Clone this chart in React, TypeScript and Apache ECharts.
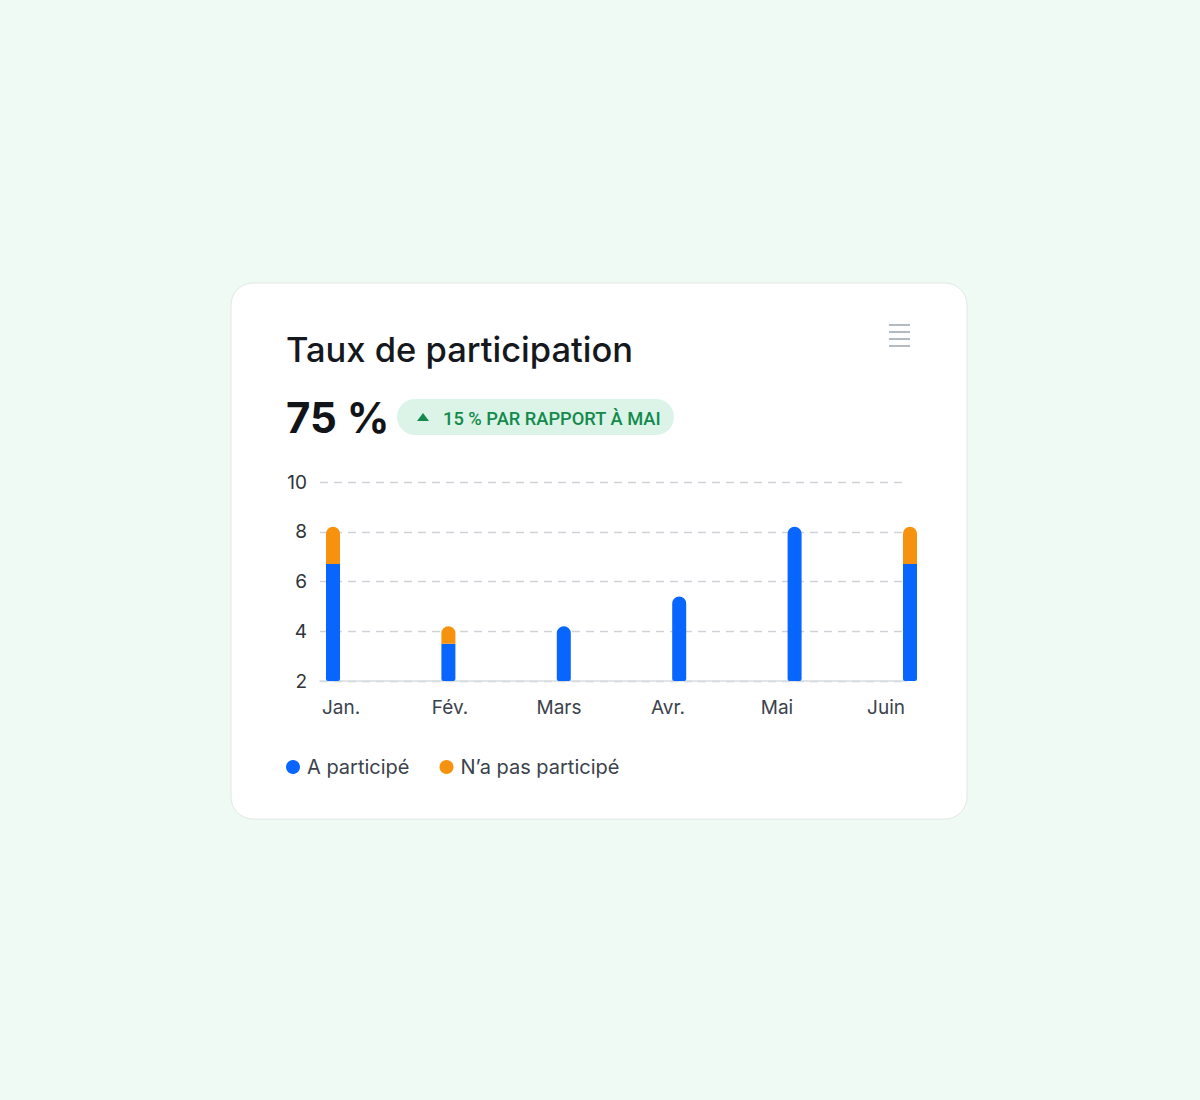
import React, { useEffect, useRef } from "react";
import * as echarts from "echarts";

const categories = ["Jan.", "Fév.", "Mars", "Avr.", "Mai", "Juin"];
const participated = [6.7, 3.5, 4.2, 5.4, 8.2, 6.7];
const notParticipated = [1.5, 0.7, null, null, null, 1.5];
const yTicks = [2, 4, 6, 8, 10];

const BLUE = "#0866ff";
const ORANGE = "#f7920f";

export default function App() {
  const ref = useRef<HTMLDivElement>(null);
  useEffect(() => {
    document.body.style.margin = "0";
    const chart = echarts.init(ref.current!, null, { renderer: "svg" });
    const gridTop = 482;
    const gridH = 199;
    const blueData = participated.map((v, i) => ({
      value: v,
      itemStyle: {
        borderRadius: notParticipated[i] == null ? [7, 7, 2, 2] : [0, 0, 2, 2],
      },
    }));
    const orangeData = notParticipated.map((v) =>
      v == null ? "-" : { value: v, itemStyle: { borderRadius: [7, 7, 0, 0] } }
    );
    chart.setOption({
      animation: false,
      backgroundColor: "#eefaf3",
      textStyle: { fontFamily: "Inter, 'Noto Sans', sans-serif" },
      graphic: [
        {
          type: "rect",
          shape: { x: 231, y: 283, width: 736, height: 536, r: 22 },
          style: { fill: "#ffffff", stroke: "#e2e8e5", lineWidth: 1 },
          z: -10,
        },
        {
          type: "text",
          x: 286,
          y: 349,
          style: {
            text: "Taux de participation",
            fontSize: 34.5,
            fontWeight: 500,
            fill: "#15181c",
            fontFamily: "Inter, sans-serif",
            verticalAlign: "middle",
          },
        },
        {
          type: "text",
          x: 286,
          y: 417,
          style: {
            text: "75 %",
            fontSize: 42,
            fontWeight: 700,
            fill: "#111418",
            fontFamily: "Inter, sans-serif",
            verticalAlign: "middle",
          },
        },
        {
          type: "rect",
          shape: { x: 397, y: 399, width: 277, height: 36, r: 18 },
          style: { fill: "#dcf4e8" },
        },
        {
          type: "polygon",
          shape: { points: [[417, 421], [429, 421], [423, 413]] },
          style: { fill: "#138a4c" },
        },
        {
          type: "text",
          x: 443,
          y: 418,
          style: {
            text: "15 % PAR RAPPORT À MAI",
            fontSize: 18.3,
            fontWeight: 500,
            fill: "#138a4c",
            fontFamily: "Roboto, sans-serif",
            verticalAlign: "middle",
          },
        },
        ...[325, 332, 339, 346].map((y) => ({
          type: "line",
          shape: { x1: 889, y1: y, x2: 910, y2: y },
          style: { stroke: "#9aa3ab", lineWidth: 1.5 },
        })),
      ],
      legend: {
        left: 286,
        top: 757,
        padding: 0,
        icon: "circle",
        itemWidth: 14,
        itemHeight: 14,
        itemGap: 30,
        textStyle: { fontSize: 20, color: "#3b424b", padding: [0, 0, 0, 2] },
        data: ["A participé", "N’a pas participé"],
      },
      grid: [
        { left: 320, top: gridTop, width: 587, height: gridH },
        { left: 341, top: gridTop, width: 545, height: gridH },
        { left: 275.3, top: gridTop, width: 692.4, height: gridH },
      ],
      xAxis: [
        {
          gridIndex: 0,
          type: "category",
          data: categories,
          axisLine: { show: true, lineStyle: { color: "#d8dde2", width: 1.5 } },
          axisTick: { show: false },
          axisLabel: { show: false },
        },
        {
          gridIndex: 1,
          type: "category",
          data: categories,
          boundaryGap: false,
          axisLine: { show: false },
          axisTick: { show: false },
          axisLabel: { fontSize: 19, color: "#3b424b", margin: 17 },
        },
        {
          gridIndex: 2,
          type: "category",
          data: categories,
          boundaryGap: true,
          show: false,
        },
      ],
      yAxis: [
        {
          gridIndex: 0,
          type: "value",
          min: yTicks[0],
          max: yTicks[yTicks.length - 1],
          interval: 2,
          axisLabel: { fontSize: 19, color: "#2f343a", margin: 13 },
          axisLine: { show: false },
          axisTick: { show: false },
          splitLine: { lineStyle: { color: "#cfd3d7", type: [8, 6], width: 1.3 } },
        },
        { gridIndex: 1, type: "value", min: 2, max: 10, show: false },
        { gridIndex: 2, type: "value", min: 2, max: 10, show: false },
      ],
      series: [
        {
          name: "A participé",
          type: "bar",
          xAxisIndex: 2,
          yAxisIndex: 2,
          stack: "total",
          barWidth: 14,
          itemStyle: { color: BLUE },
          data: blueData,
        },
        {
          name: "N’a pas participé",
          type: "bar",
          xAxisIndex: 2,
          yAxisIndex: 2,
          stack: "total",
          barWidth: 14,
          itemStyle: { color: ORANGE },
          data: orangeData,
        },
      ],
    });
    return () => chart.dispose();
  }, []);
  return <div ref={ref} style={{ width: 1200, height: 1100 }} />;
}
